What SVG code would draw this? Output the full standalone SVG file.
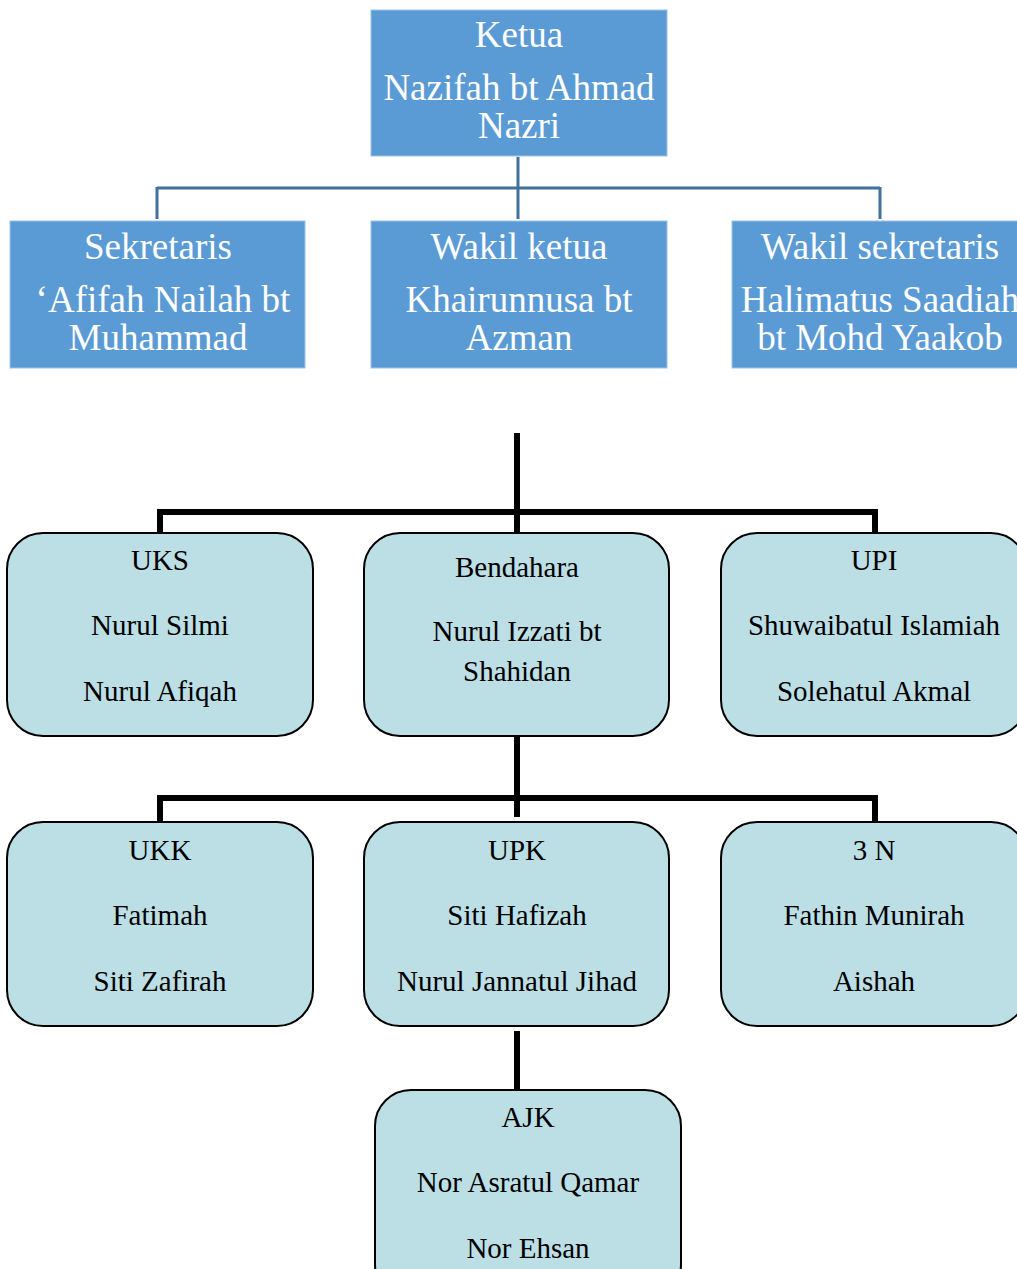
<svg xmlns="http://www.w3.org/2000/svg" width="1017" height="1269" viewBox="0 0 1017 1269">
<style>
.bx{fill:#5B9BD5;stroke:#9DC3E6;stroke-width:1}
.rb{fill:#BCDEE5;stroke:#000;stroke-width:2}
.tw{font-family:'Liberation Serif',Tinos,'Times New Roman',Times,serif;font-size:37px;fill:#fff;text-anchor:middle}
.tb{font-family:'Liberation Serif',Tinos,'Times New Roman',Times,serif;font-size:29px;fill:#000;text-anchor:middle}
.cb{stroke:#41719C;stroke-width:3;fill:none}
.ck{stroke:#000;stroke-width:6;fill:none}
</style>
<rect width="1017" height="1269" fill="#fff"/>
<g id="connectors">
<path class="cb" d="M518 157V219M157 188H880M157 187V219M880 187V219"/>
<path class="ck" d="M517 433V536M160 536V512H875V536"/>
<path class="ck" d="M517 720V817M160 822V798H875V822"/>
<path class="ck" d="M517 1031V1091"/>
</g>
<g id="ketua">
<rect class="bx" x="371" y="10" width="296" height="146"/>
<text class="tw" x="519" y="47">Ketua</text>
<text class="tw" x="519" y="100">Nazifah bt Ahmad</text>
<text class="tw" x="519" y="138">Nazri</text>
</g>
<g id="sekretaris">
<rect class="bx" x="10" y="221" width="295" height="147"/>
<text class="tw" x="158" y="259">Sekretaris</text>
<text class="tw" x="163" y="312">‘Afifah Nailah bt</text>
<text class="tw" x="158" y="350">Muhammad</text>
</g>
<g id="wakil-ketua">
<rect class="bx" x="371" y="221" width="296" height="147"/>
<text class="tw" x="519" y="259">Wakil ketua</text>
<text class="tw" x="519" y="312">Khairunnusa bt</text>
<text class="tw" x="519" y="350">Azman</text>
</g>
<g id="wakil-sekretaris">
<rect class="bx" x="732" y="221" width="300" height="147"/>
<text class="tw" x="880" y="259">Wakil sekretaris</text>
<text class="tw" x="880" y="312">Halimatus Saadiah</text>
<text class="tw" x="880" y="350">bt Mohd Yaakob</text>
</g>
<g id="uks">
<rect class="rb" x="7" y="533" width="306" height="203" rx="36"/>
<text class="tb" x="160" y="570">UKS</text>
<text class="tb" x="160" y="635">Nurul Silmi</text>
<text class="tb" x="160" y="701">Nurul Afiqah</text>
</g>
<g id="bendahara">
<rect class="rb" x="364" y="533" width="305" height="203" rx="36"/>
<text class="tb" x="517" y="577">Bendahara</text>
<text class="tb" x="517" y="641">Nurul Izzati bt</text>
<text class="tb" x="517" y="681">Shahidan</text>
</g>
<g id="upi">
<rect class="rb" x="721" y="533" width="306" height="203" rx="36"/>
<text class="tb" x="874" y="570">UPI</text>
<text class="tb" x="874" y="635">Shuwaibatul Islamiah</text>
<text class="tb" x="874" y="701">Solehatul Akmal</text>
</g>
<g id="ukk">
<rect class="rb" x="7" y="822" width="306" height="204" rx="36"/>
<text class="tb" x="160" y="860">UKK</text>
<text class="tb" x="160" y="925">Fatimah</text>
<text class="tb" x="160" y="991">Siti Zafirah</text>
</g>
<g id="upk">
<rect class="rb" x="364" y="822" width="305" height="204" rx="36"/>
<text class="tb" x="517" y="860">UPK</text>
<text class="tb" x="517" y="925">Siti Hafizah</text>
<text class="tb" x="517" y="991">Nurul Jannatul Jihad</text>
</g>
<g id="3n">
<rect class="rb" x="721" y="822" width="306" height="204" rx="36"/>
<text class="tb" x="874" y="860">3 N</text>
<text class="tb" x="874" y="925">Fathin Munirah</text>
<text class="tb" x="874" y="991">Aishah</text>
</g>
<g id="ajk">
<rect class="rb" x="375" y="1090" width="306" height="210" rx="36"/>
<text class="tb" x="528" y="1127">AJK</text>
<text class="tb" x="528" y="1192">Nor Asratul Qamar</text>
<text class="tb" x="528" y="1258">Nor Ehsan</text>
</g>
</svg>
